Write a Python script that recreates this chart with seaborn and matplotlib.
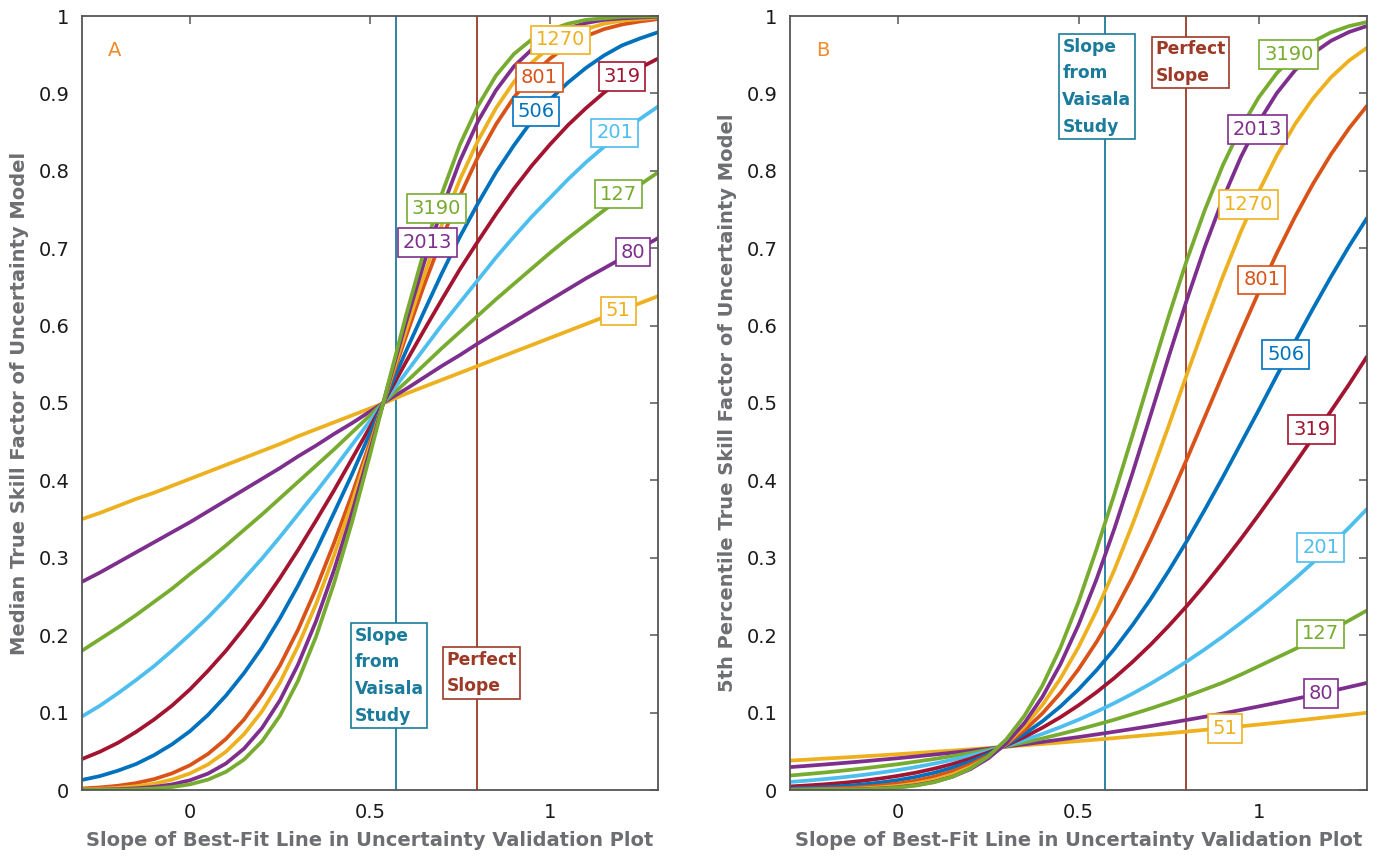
import matplotlib
matplotlib.use("Agg")
import matplotlib.pyplot as plt
import pandas as pd
import seaborn as sns

# ---------------- data ----------------
sample_sizes = [51, 80, 127, 201, 319, 506, 801, 1270, 2013, 3190]

# shared slope grid (x values) for both panels
slope = [-0.3, -0.25, -0.2, -0.15, -0.1, -0.05, 0.0, 0.05, 0.1, 0.15, 0.2, 0.25, 0.3, 0.35,
         0.4, 0.45, 0.5, 0.55, 0.6, 0.65, 0.7, 0.75, 0.8, 0.85, 0.9, 0.95, 1.0, 1.05, 1.1,
         1.15, 1.2, 1.25, 1.3]

# Panel A: median true skill factor
med_51 = [0.350, 0.358, 0.367, 0.376, 0.384, 0.393, 0.402, 0.411, 0.420, 0.429, 0.438, 0.447,
          0.457, 0.466, 0.475, 0.484, 0.493, 0.502, 0.512, 0.521, 0.530, 0.539, 0.548, 0.557,
          0.566, 0.575, 0.584, 0.593, 0.602, 0.611, 0.620, 0.629, 0.638]
med_80 = [0.269, 0.281, 0.294, 0.307, 0.320, 0.333, 0.346, 0.360, 0.374, 0.388, 0.402, 0.416,
          0.431, 0.445, 0.460, 0.474, 0.489, 0.504, 0.518, 0.533, 0.548, 0.562, 0.577, 0.591,
          0.605, 0.619, 0.633, 0.647, 0.661, 0.674, 0.687, 0.700, 0.713]
med_127 = [0.180, 0.195, 0.210, 0.226, 0.243, 0.260, 0.279, 0.297, 0.316, 0.336, 0.356, 0.377,
           0.398, 0.419, 0.440, 0.462, 0.484, 0.506, 0.527, 0.549, 0.571, 0.592, 0.613, 0.634,
           0.654, 0.674, 0.694, 0.713, 0.731, 0.749, 0.766, 0.782, 0.798]
med_201 = [0.095, 0.109, 0.125, 0.142, 0.160, 0.180, 0.201, 0.223, 0.247, 0.273, 0.299, 0.327,
           0.356, 0.385, 0.415, 0.446, 0.477, 0.508, 0.539, 0.570, 0.601, 0.630, 0.659, 0.688,
           0.715, 0.741, 0.765, 0.789, 0.811, 0.831, 0.850, 0.867, 0.883]
med_319 = [0.040, 0.0495, 0.061, 0.075, 0.091, 0.109, 0.130, 0.154, 0.180, 0.209, 0.240, 0.274,
           0.310, 0.348, 0.387, 0.428, 0.469, 0.511, 0.553, 0.594, 0.634, 0.673, 0.709, 0.744,
           0.777, 0.807, 0.834, 0.859, 0.881, 0.901, 0.918, 0.933, 0.945]
med_506 = [0.013, 0.018, 0.025, 0.0335, 0.045, 0.059, 0.076, 0.097, 0.122, 0.151, 0.184, 0.222,
           0.264, 0.309, 0.358, 0.408, 0.461, 0.514, 0.567, 0.618, 0.668, 0.715, 0.758, 0.798,
           0.833, 0.865, 0.892, 0.914, 0.933, 0.949, 0.962, 0.971, 0.979]
med_801 = [0.002, 0.0033, 0.0055, 0.0089, 0.014, 0.0215, 0.032, 0.0466, 0.066, 0.091, 0.123,
           0.161, 0.207, 0.260, 0.319, 0.382, 0.449, 0.518, 0.586, 0.652, 0.713, 0.768, 0.818,
           0.860, 0.895, 0.923, 0.945, 0.962, 0.974, 0.983, 0.989, 0.993, 0.996]
med_1270 = [0.0008, 0.0015, 0.0027, 0.0048, 0.0081, 0.0134, 0.0214, 0.033, 0.0496, 0.0721,
            0.1017, 0.139, 0.186, 0.240, 0.303, 0.371, 0.444, 0.520, 0.594, 0.665, 0.731,
            0.789, 0.839, 0.881, 0.915, 0.940, 0.960, 0.974, 0.983, 0.990, 0.994, 0.996, 0.998]
med_2013 = [0.0002, 0.0005, 0.0011, 0.0021, 0.0040, 0.0072, 0.0126, 0.0212, 0.0343, 0.0534,
            0.0801, 0.116, 0.162, 0.218, 0.284, 0.358, 0.439, 0.522, 0.604, 0.681, 0.751,
            0.813, 0.864, 0.904, 0.935, 0.957, 0.973, 0.984, 0.991, 0.995, 0.997, 0.998, 0.999]
med_3190 = [0.0001, 0.0002, 0.0004, 0.0009, 0.0019, 0.0038, 0.0073, 0.0134, 0.0235, 0.0393,
            0.0628, 0.096, 0.141, 0.198, 0.267, 0.346, 0.433, 0.524, 0.613, 0.696, 0.771,
            0.834, 0.884, 0.923, 0.951, 0.970, 0.982, 0.990, 0.995, 0.997, 0.999, 0.9994, 0.9997]

# Panel B: 5th percentile true skill factor
p5_51 = [0.0380, 0.0393, 0.0407, 0.0420, 0.0434, 0.0448, 0.0463, 0.0478, 0.0494, 0.0509, 0.0526,
         0.0542, 0.0559, 0.0577, 0.0595, 0.0613, 0.0632, 0.0651, 0.0671, 0.0692, 0.0712, 0.0733,
         0.0755, 0.0777, 0.0800, 0.0823, 0.0846, 0.0870, 0.0895, 0.0920, 0.0946, 0.0971, 0.0998]
p5_80 = [0.0296, 0.0313, 0.0331, 0.0350, 0.0369, 0.0390, 0.0411, 0.0434, 0.0458, 0.0482, 0.0508,
         0.0534, 0.0562, 0.0591, 0.0621, 0.0652, 0.0684, 0.0718, 0.0753, 0.0789, 0.0826, 0.0865,
         0.0905, 0.0946, 0.0989, 0.1034, 0.1080, 0.1127, 0.1176, 0.1225, 0.1277, 0.1330, 0.1384]
p5_127 = [0.0187, 0.0207, 0.0228, 0.0252, 0.0277, 0.0305, 0.0334, 0.0367, 0.0401, 0.0438, 0.0478,
          0.0521, 0.0566, 0.0615, 0.0666, 0.0723, 0.0781, 0.0844, 0.0909, 0.0980, 0.1053, 0.1131,
          0.1212, 0.1299, 0.1387, 0.1490, 0.1600, 0.1710, 0.1820, 0.1940, 0.2060, 0.2190, 0.2320]
p5_201 = [0.0104, 0.0122, 0.0143, 0.0166, 0.0193, 0.0224, 0.0258, 0.0297, 0.0341, 0.0390, 0.0444,
          0.0504, 0.0571, 0.0645, 0.0725, 0.0813, 0.0908, 0.1012, 0.1124, 0.1245, 0.1374, 0.1513,
          0.1660, 0.1817, 0.1982, 0.2158, 0.2340, 0.2532, 0.2730, 0.2937, 0.3160, 0.3390, 0.3630]
p5_319 = [0.0046, 0.0059, 0.0075, 0.0094, 0.0118, 0.0148, 0.0183, 0.0225, 0.0276, 0.0335, 0.0404,
          0.0485, 0.0577, 0.0684, 0.0805, 0.0941, 0.1094, 0.1263, 0.1450, 0.1655, 0.1878, 0.2119,
          0.2376, 0.2650, 0.2940, 0.3242, 0.3557, 0.3882, 0.4215, 0.4554, 0.4896, 0.5239, 0.5600]
p5_506 = [0.0019, 0.0027, 0.0037, 0.0052, 0.0071, 0.0096, 0.0128, 0.0170, 0.0222, 0.0287, 0.0367,
          0.0466, 0.0583, 0.0724, 0.0888, 0.1080, 0.1299, 0.1548, 0.1825, 0.2133, 0.2467, 0.2830,
          0.3213, 0.3620, 0.4040, 0.4475, 0.4910, 0.5355, 0.5790, 0.6217, 0.6630, 0.7023, 0.7390]
p5_801 = [0.0006, 0.0010, 0.0016, 0.0025, 0.0038, 0.0057, 0.0084, 0.0122, 0.0173, 0.0241, 0.0330,
          0.0445, 0.0590, 0.0771, 0.0990, 0.1253, 0.1560, 0.1913, 0.2312, 0.2753, 0.3231, 0.3737,
          0.4270, 0.4817, 0.5367, 0.5910, 0.6436, 0.6936, 0.7402, 0.7829, 0.8212, 0.8547, 0.8840]
p5_1270 = [0.0002, 0.0004, 0.0007, 0.0012, 0.0020, 0.0034, 0.0054, 0.0086, 0.0133, 0.0201, 0.0297,
           0.0425, 0.0597, 0.0820, 0.1099, 0.1441, 0.1846, 0.2318, 0.2850, 0.3435, 0.4060, 0.4705,
           0.5363, 0.6010, 0.6630, 0.7211, 0.7734, 0.8199, 0.8600, 0.8934, 0.9207, 0.9423, 0.9590]
p5_2013 = [0.0001, 0.0001, 0.0003, 0.0006, 0.0011, 0.0020, 0.0036, 0.0063, 0.0105, 0.0171, 0.0269,
           0.0409, 0.0604, 0.0866, 0.1204, 0.1626, 0.2133, 0.2723, 0.3383, 0.4098, 0.4844, 0.5596,
           0.6327, 0.7013, 0.7633, 0.8175, 0.8632, 0.9004, 0.9296, 0.9517, 0.9679, 0.9793, 0.9871]
p5_3190 = [0.0000, 0.0001, 0.0002, 0.0004, 0.0009, 0.0017, 0.0032, 0.0058, 0.0101, 0.0171, 0.0277,
           0.0434, 0.0656, 0.0958, 0.1350, 0.1840, 0.2430, 0.3110, 0.3830, 0.4586, 0.5360, 0.6120,
           0.6840, 0.7490, 0.8070, 0.8554, 0.8950, 0.9262, 0.9497, 0.9668, 0.9788, 0.9869, 0.9922]

vaisala_slope = 0.573
perfect_slope = 0.797
x_ticks = [0, 0.5, 1]
x_tick_labels = ["0", "0.5", "1"]
y_ticks = [0, 0.1, 0.2, 0.3, 0.4, 0.5, 0.6, 0.7, 0.8, 0.9, 1.0]
y_tick_labels = ["0", "0.1", "0.2", "0.3", "0.4", "0.5", "0.6", "0.7", "0.8", "0.9", "1"]

# tag positions (annotation layout) for each sample-size label
tag_pos_a = {51: (1.19, 0.619), 80: (1.23, 0.695), 127: (1.19, 0.770), 201: (1.18, 0.849),
             319: (1.20, 0.922), 506: (0.961, 0.877), 801: (0.970, 0.921), 1270: (1.028, 0.969),
             2013: (0.659, 0.707), 3190: (0.684, 0.751)}
tag_pos_b = {51: (0.906, 0.079), 80: (1.172, 0.125), 127: (1.172, 0.2016), 201: (1.172, 0.313),
             319: (1.147, 0.466), 506: (1.075, 0.563), 801: (1.008, 0.659), 1270: (0.972, 0.756),
             2013: (0.997, 0.853), 3190: (1.083, 0.950)}

# ---------------- styling ----------------
colors = {51: "#EDB120", 80: "#7E2F8E", 127: "#77AC30", 201: "#4DBEEE", 319: "#A2142F",
          506: "#0072BD", 801: "#D95319", 1270: "#EDB120", 2013: "#7E2F8E", 3190: "#77AC30"}
vaisala_color = "#1B7B9B"
perfect_color = "#9C3A27"
label_gray = "#6D6E71"
spine_gray = "#555555"

sns.set_theme(style="white")
plt.rcParams["font.family"] = ["DejaVu Sans"]

med_series = [med_51, med_80, med_127, med_201, med_319, med_506, med_801, med_1270, med_2013, med_3190]
p5_series = [p5_51, p5_80, p5_127, p5_201, p5_319, p5_506, p5_801, p5_1270, p5_2013, p5_3190]


def long_frame(xs, series):
    rows = []
    for n, ys in zip(sample_sizes, series):
        for x, y in zip(xs, ys):
            rows.append({"n": str(n), "x": x, "y": y})
    return pd.DataFrame(rows)


df_a = long_frame(slope, med_series)
df_b = long_frame(slope, p5_series)

fig = plt.figure(figsize=(13.83, 8.56), dpi=100)
ax_a = fig.add_axes([82 / 1383, 66 / 856, 576 / 1383, 774 / 856])
ax_b = fig.add_axes([790 / 1383, 66 / 856, 577 / 1383, 774 / 856])

palette = {str(n): colors[n] for n in sample_sizes}
hue_order = [str(n) for n in sample_sizes]
axis_font = {"size": 14, "weight": "bold", "color": label_gray}


def draw_panel(ax, df, tags, ylabel, letter, vaisala_box, perfect_box):
    ax.axvline(vaisala_slope, color=vaisala_color, lw=1.3, zorder=1)
    ax.axvline(perfect_slope, color=perfect_color, lw=1.3, zorder=1)
    sns.lineplot(data=df, x="x", y="y", hue="n", hue_order=hue_order, palette=palette,
                 linewidth=2.7, legend=False, ax=ax, sort=False, estimator=None, zorder=2)
    for ln in ax.get_lines():
        ln.set_solid_joinstyle("round")
    ax.set_xlim(-0.3, 1.3)
    ax.set_ylim(0, 1)
    ax.set_xticks(x_ticks)
    ax.set_xticklabels(x_tick_labels)
    ax.set_yticks(y_ticks)
    ax.set_yticklabels(y_tick_labels)
    ax.tick_params(direction="in", top=True, right=True, length=6, width=1.1,
                   color=spine_gray, labelcolor="#1a1a1a", labelsize=14, pad=9)
    for sp in ax.spines.values():
        sp.set_color(spine_gray)
        sp.set_linewidth(1.3)
    ax.set_xlabel("Slope of Best-Fit Line in Uncertainty Validation Plot", fontdict=axis_font,
                  labelpad=7)
    ax.set_ylabel(ylabel, fontdict=axis_font, labelpad=7)
    ax.text(-0.21, 0.956, letter, color="#F28A2A", fontsize=14, ha="center", va="center")
    for n in sample_sizes:
        tx, ty = tags[n]
        ax.text(tx, ty, str(n), color=colors[n], fontsize=14, ha="center", va="center", zorder=6,
                bbox=dict(boxstyle="square,pad=0.25", fc="white", ec=colors[n], lw=1.2))
    vx, vy = vaisala_box
    ax.text(vx, vy, "Slope\nfrom\nVaisala\nStudy", color=vaisala_color, fontsize=12.3,
            fontweight="bold", ha="left", va="top", linespacing=1.62, zorder=7,
            bbox=dict(boxstyle="square,pad=0.2", fc="white", ec=vaisala_color, lw=1.2))
    px, py = perfect_box
    ax.text(px, py, "Perfect\nSlope", color=perfect_color, fontsize=12.3,
            fontweight="bold", ha="left", va="top", linespacing=1.62, zorder=7,
            bbox=dict(boxstyle="square,pad=0.2", fc="white", ec=perfect_color, lw=1.2))


draw_panel(ax_a, df_a, tag_pos_a, "Median True Skill Factor of Uncertainty Model", "A",
           (0.458, 0.211), (0.713, 0.180))
draw_panel(ax_b, df_b, tag_pos_b, "5th Percentile True Skill Factor of Uncertainty Model", "B",
           (0.455, 0.972), (0.713, 0.969))

fig.savefig("out.png", dpi=100)
